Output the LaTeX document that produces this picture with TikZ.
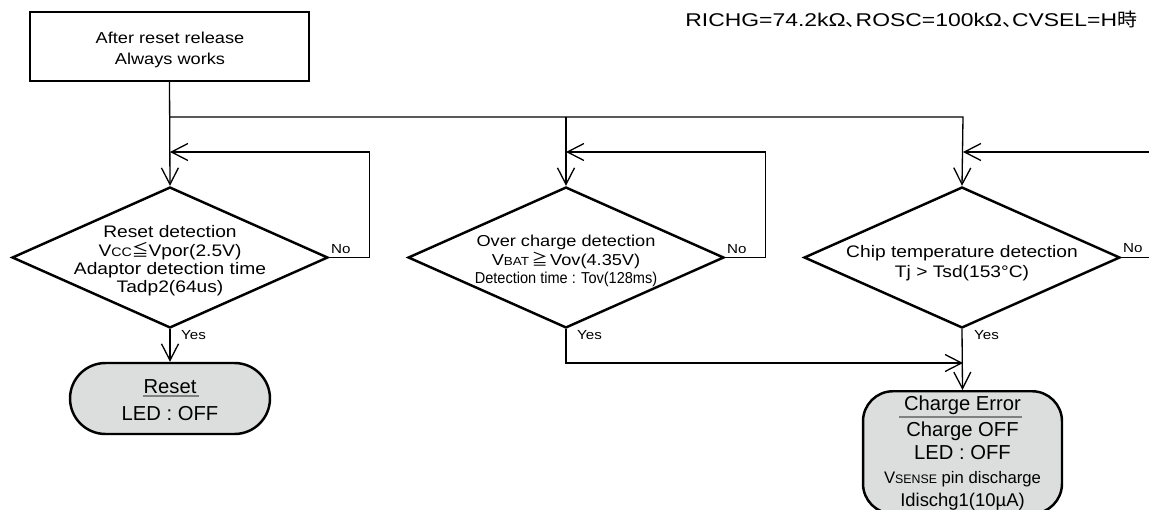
\documentclass[tikz,border=0pt]{standalone}
\usepackage{fontspec}
\setmainfont{Liberation Sans}
\newfontfamily\widefont{Liberation Sans}[FakeStretch=1.15]
\newfontfamily\cjk{Noto Sans CJK JP}[RawFeature=+halt]
\usetikzlibrary{arrows.meta,shapes.geometric,shapes.misc}

\definecolor{boxgray}{HTML}{DCDDDD}
\newcommand{\lowcap}[1]{\scalebox{0.74}{#1}}

\tikzset{
  flow/.style={line width=0.75pt},
  tip/.style={-{Straight Barb[length=3.3mm,width=3.4mm,line width=0.75pt]}},
  startbox/.style={draw, line width=1.4pt, minimum width=5.58cm, minimum height=1.38cm},
  decision/.style={diamond, draw, line width=1.4pt, minimum width=6.32cm, minimum height=2.82cm, inner sep=0pt},
  dtext/.style={align=center, inner sep=0pt, font=\widefont\fontsize{9.5}{10.5}\selectfont},
  state/.style={draw, line width=1.4pt, fill=boxgray},
  lbl/.style={inner sep=1pt, font=\widefont\fontsize{7.5}{9}\selectfont},
}

\begin{document}
\begin{tikzpicture}[x=0.02cm, y=-0.02cm]
\useasboundingbox (0,0) rectangle (1149,510);

\node[anchor=base west, inner sep=0pt, font=\widefont\fontsize{10.5}{12}\selectfont] (cond) at (685,27) {\scalebox{1.08}[1]{RICHG=74.2kΩ{\cjk 、}ROSC=100kΩ{\cjk 、}CVSEL=H{\cjk 時}}};

\node[startbox] (start) at (169.5,46.5) {};
\node[align=center, inner sep=0pt, font=\widefont\fontsize{9}{12}\selectfont] (starttext) at (170,50) {After reset release\\Always works};

% decisions
\node[decision] (rst) at (170,257.5) {};
\node[decision] (ovc) at (566,257.5) {};
\node[decision] (tsd) at (962,257.5) {};

\node[dtext] (rsttext) at (170,261) {Reset detection\\V\lowcap{CC}{\cjk ≦}Vpor(2.5V)\\Adaptor detection time\\Tadp2(64us)};
\node[dtext, font=\widefont\fontsize{9}{10.4}\selectfont] (ovctext) at (566,261) {Over charge detection\\V\lowcap{BAT}\,{\cjk ≧}\,Vov(4.35V)\\{\fontsize{9}{9}\selectfont\scalebox{0.8}[1]{Detection time : Tov(128ms)}}};
\node[dtext, font=\widefont\fontsize{9.5}{11.3}\selectfont] (tsdtext) at (962,263) {Chip temperature detection\\Tj > Tsd(153°C)};

% results
\node[state, rounded rectangle, minimum width=4cm, minimum height=1.42cm, inner sep=0pt] (reset) at (170,398.5) {};
\node[align=center, inner sep=0pt, font=\fontsize{11.5}{15}\selectfont] (resettext) at (170,400) {Reset\\LED : OFF};
\draw[gray, line width=0.6pt] (143,396) -- (199,396);

\node[state, rounded corners=0.6cm, minimum width=3.98cm, minimum height=2.45cm, anchor=north] (err) at (962.5,390) {};
\node[align=center, inner sep=0pt, anchor=north, font=\fontsize{11.5}{13.4}\selectfont] (errtext) at (962.5,396) {Charge Error\\[1pt]Charge OFF\\LED : OFF\\
  {\fontsize{9.5}{11.5}\selectfont V\lowcap{SENSE} pin discharge}\\{\fontsize{10.5}{11.5}\selectfont Idischg1(10µA)}};
\draw[gray, line width=0.6pt] (899,417) -- (1022,417);

% connectors
\coordinate (split) at (170,117);
\coordinate (tr2) at (566,117);
\coordinate (tr3) at (963,117);
\coordinate (rstback) at (170,152);
\coordinate (ovcback) at (566,152);
\coordinate (tsdback) at (963,152);
\coordinate (tsdloop) at (1149,152);
\coordinate (tsdout) at (1149,257.5);
\coordinate (ovcjoin) at (963,363);

\draw[flow,tip] (start.south) -- (rst.north);
\draw[flow,tip] (split) -- (tr3) -- (tsd.north);
\draw[flow,tip] (tr2) -- (ovc.north);

\draw[flow,tip] (rst.east) -- ++(40,0) |- (rstback);
\draw[flow,tip] (ovc.east) -- ++(40,0) |- (ovcback);
\draw[flow,tip] (tsdloop) -- (tsdback);
\draw[flow] (tsd.east) -- (tsdout);

\draw[flow,tip] (rst.south) -- (reset.north);
\draw[flow,tip] (ovc.south) |- (ovcjoin);
\draw[flow,tip] (tsd.south) -- (err.north);

% labels
\node[lbl, anchor=base west] (rstno) at (329,253) {No};
\node[lbl, anchor=base west] (ovcno) at (725,253) {No};
\node[lbl, anchor=base west] (tsdno) at (1121,252) {No};
\node[lbl, anchor=base west] (rstyes) at (179,339) {Yes};
\node[lbl, anchor=base west] (ovcyes) at (575,339) {Yes};
\node[lbl, anchor=base west] (tsdyes) at (972,339) {Yes};

\end{tikzpicture}
\end{document}
